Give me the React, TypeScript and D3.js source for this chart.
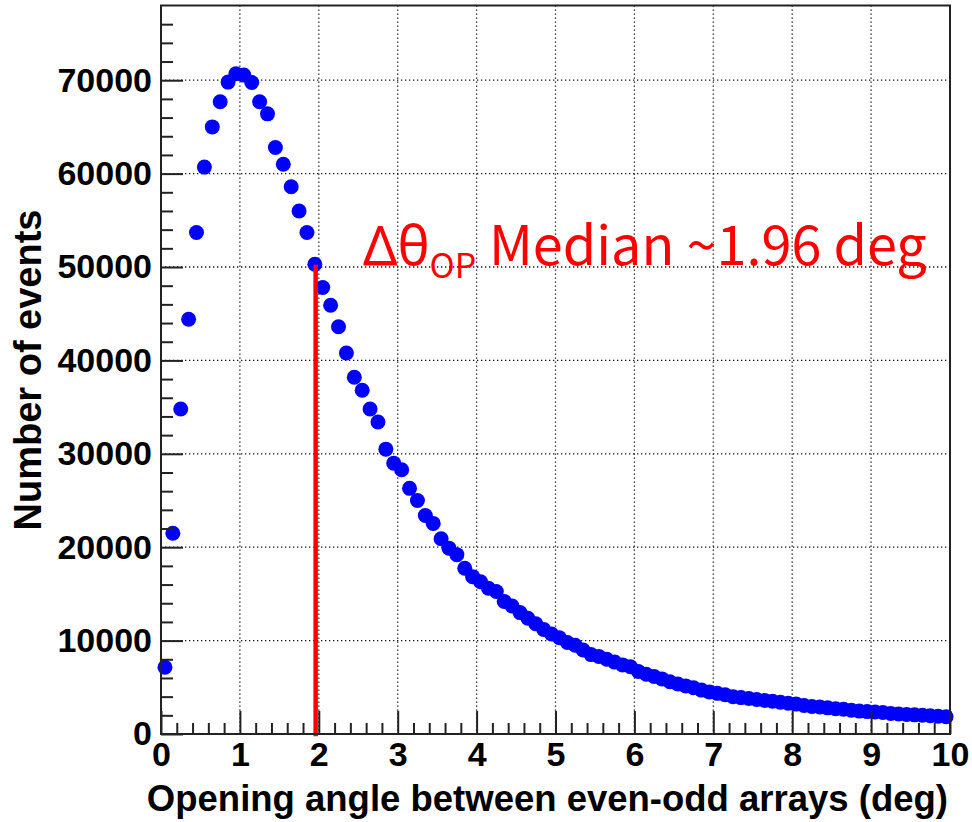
import React, { useEffect, useRef } from "react";
import * as d3 from "d3";

// Histogram of opening angles, 0.1 deg bins from 0 to 10 deg
const binWidth = 0.1;
const binCount = 100;
const counts = [
  7150, 21500, 34800, 44400, 53700, 60700, 65000, 67700, 69800, 70700,
  70550, 69750, 67700, 66400, 62800, 61000, 58600, 56000, 53700, 50300,
  47800, 45900, 43600, 40800, 38200, 36800, 34800, 33400, 30500, 29000,
  28300, 26300, 25000, 23400, 22550, 20900, 19900, 19200, 17750, 16850,
  16300, 15600, 15250, 14200, 13700, 13000, 12400, 11800, 11200, 10700,
  10300, 9800, 9500, 9000, 8500, 8300, 8000, 7700, 7400, 7200,
  6700, 6400, 6150, 5900, 5600, 5350, 5150, 4950, 4700, 4500,
  4350, 4200, 4000, 3900, 3800, 3700, 3600, 3500, 3400, 3300,
  3200, 3050, 2950, 2900, 2800, 2700, 2650, 2550, 2450, 2400,
  2350, 2300, 2200, 2150, 2100, 2050, 2000, 1950, 1900, 1850,
];

const xTickValues = [0, 1, 2, 3, 4, 5, 6, 7, 8, 9, 10];
const yTickValues = [0, 10000, 20000, 30000, 40000, 50000, 60000, 70000];
const xDomain = [0, 10];
const yDomain = [0, 78000];
const xMinorStep = 0.2;
const yMinorStep = 2000;

const medianAngle = 1.96;
const medianLineTop = 50000;
const xTitle = "Opening angle between even-odd arrays (deg)";
const yTitle = "Number of events";

const W = 972;
const H = 822;
const plot = { left: 161, right: 950, top: 5.5, bottom: 734 };

export default function App() {
  const ref = useRef<SVGSVGElement>(null);

  useEffect(() => {
    const svg = d3.select(ref.current);
    svg.selectAll("*").remove();

    const x = d3.scaleLinear().domain(xDomain).range([plot.left, plot.right]);
    const y = d3.scaleLinear().domain(yDomain).range([plot.bottom, plot.top]);

    const axisFont = "'Liberation Sans', Arial, Helvetica, sans-serif";
    const ink = "#222";

    // dotted grid at major ticks
    const grid = svg.append("g").attr("stroke", "#111").attr("stroke-width", 1.3).attr("stroke-dasharray", "1.3,2.7");
    grid.selectAll("line.gx")
      .data(xTickValues.filter((v) => v > xDomain[0] && v < xDomain[1]))
      .join("line")
      .attr("class", "gx")
      .attr("x1", (d) => x(d)).attr("x2", (d) => x(d))
      .attr("y1", plot.top).attr("y2", plot.bottom);
    grid.selectAll("line.gy")
      .data(yTickValues.filter((v) => v > yDomain[0]))
      .join("line")
      .attr("class", "gy")
      .attr("y1", (d) => y(d)).attr("y2", (d) => y(d))
      .attr("x1", plot.left).attr("x2", plot.right);

    // points
    const centers = d3.range(binCount).map((i) => (i + 0.5) * binWidth);
    svg.append("g")
      .selectAll("circle")
      .data(counts)
      .join("circle")
      .attr("cx", (_, i) => x(centers[i]))
      .attr("cy", (d) => y(d))
      .attr("r", 7.5)
      .attr("fill", "#0000ff");

    // median marker
    svg.append("line")
      .attr("x1", x(medianAngle)).attr("x2", x(medianAngle))
      .attr("y1", y(0)).attr("y2", y(medianLineTop))
      .attr("stroke", "#ff0000").attr("stroke-width", 4.5)
      .attr("stroke-linecap", "square");

    // y axis (ticks point inward)
    const yMinor = d3.range(yDomain[0], yDomain[1], yMinorStep).filter((v) => v % 10000 !== 0);
    const gyMinor = svg.append("g").attr("transform", `translate(${plot.left},0)`)
      .call(d3.axisLeft(y).tickValues(yMinor).tickSizeInner(-12).tickSizeOuter(0).tickFormat(() => ""));
    const gyMajor = svg.append("g").attr("transform", `translate(${plot.left},0)`)
      .call(d3.axisLeft(y).tickValues(yTickValues).tickSizeInner(-22).tickSizeOuter(0).tickPadding(9).tickFormat(d3.format("d")));

    // x axis (ticks point inward)
    const xMinor = d3.range(xDomain[0], xDomain[1] + 1e-9, xMinorStep).filter((v) => Math.abs(v - Math.round(v)) > 1e-6);
    const gxMinor = svg.append("g").attr("transform", `translate(0,${plot.bottom})`)
      .call(d3.axisBottom(x).tickValues(xMinor).tickSizeInner(-11).tickSizeOuter(0).tickFormat(() => ""));
    const gxMajor = svg.append("g").attr("transform", `translate(0,${plot.bottom})`)
      .call(d3.axisBottom(x).tickValues(xTickValues).tickSizeInner(-23).tickSizeOuter(0).tickPadding(8).tickFormat(d3.format("d")));

    [gyMinor, gyMajor, gxMinor, gxMajor].forEach((g) => {
      g.select(".domain").remove();
      g.selectAll("line").attr("stroke", ink).attr("stroke-width", 2);
      g.selectAll("text")
        .attr("fill", "#000")
        .attr("font-family", axisFont)
        .attr("font-weight", "bold")
        .attr("font-size", 34);
    });

    // frame
    svg.append("rect")
      .attr("x", plot.left).attr("y", plot.top)
      .attr("width", plot.right - plot.left).attr("height", plot.bottom - plot.top)
      .attr("fill", "none").attr("stroke", ink).attr("stroke-width", 2);

    // axis titles
    svg.append("text")
      .attr("x", plot.right - 2).attr("y", 811)
      .attr("text-anchor", "end")
      .attr("font-family", axisFont).attr("font-weight", "bold").attr("font-size", 36.5)
      .attr("fill", "#000")
      .text(xTitle);
    svg.append("text")
      .attr("transform", `translate(41,${plot.top + 204}) rotate(-90)`)
      .attr("text-anchor", "end")
      .attr("font-family", axisFont).attr("font-weight", "bold").attr("font-size", 38)
      .attr("fill", "#000")
      .text(yTitle);

    // median annotation
    const note = svg.append("text")
      .attr("x", 363).attr("y", 265)
      .attr("fill", "#ff0000")
      .attr("font-family", "'Noto Sans CJK JP', 'Noto Sans', sans-serif")
      .attr("font-size", 54);
    note.append("tspan").attr("font-family", "'Noto Sans', sans-serif").text("Δθ");
    note.append("tspan").attr("font-size", 34).attr("dy", 13).text("OP");
    note.append("tspan").attr("x", 489).attr("dy", -13).text(`Median ~${medianAngle} deg`);
  }, []);

  return (
    <div style={{ position: "absolute", left: 0, top: 0 }}>
      <svg ref={ref} width={W} height={H} style={{ display: "block", background: "#fff" }} />
    </div>
  );
}
